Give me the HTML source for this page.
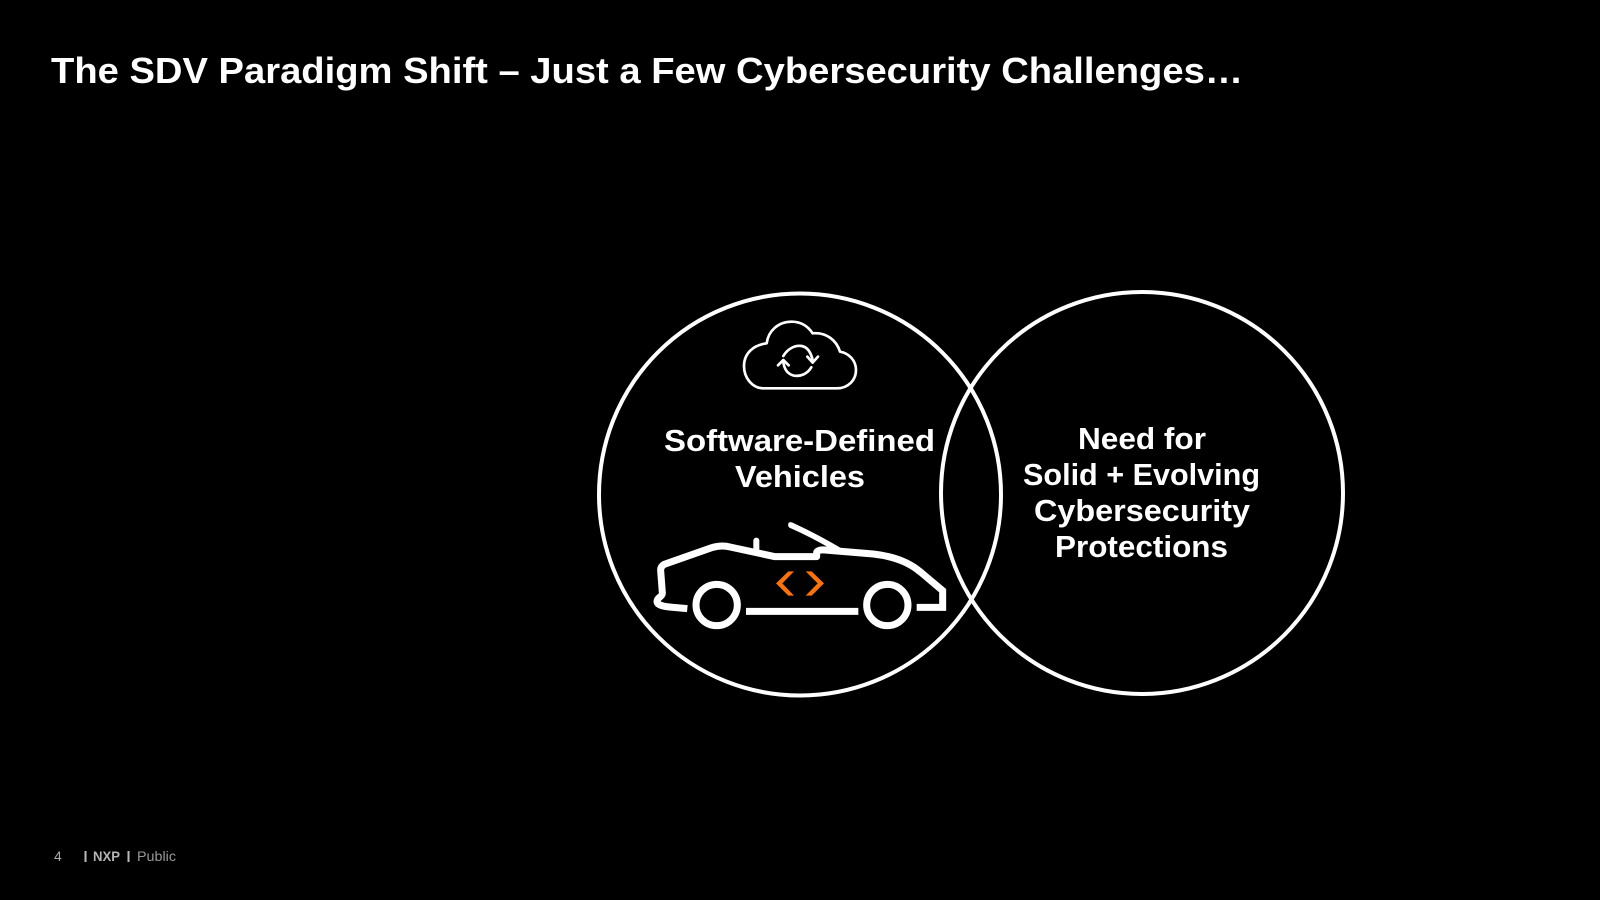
<!DOCTYPE html>
<html lang="en">
<head>
<meta charset="utf-8">
<title>The SDV Paradigm Shift</title>
<style>
html,body{margin:0;padding:0;background:#000;width:1600px;height:900px;overflow:hidden}
svg{display:block}
text{font-family:"Liberation Sans",sans-serif;fill:#fff}
</style>
</head>
<body>
<svg width="1600" height="900" viewBox="0 0 1600 900" xmlns="http://www.w3.org/2000/svg">
<rect width="1600" height="900" fill="#000"/>
<text x="51" y="83" font-size="36" font-weight="700" textLength="1192" lengthAdjust="spacingAndGlyphs">The SDV Paradigm Shift – Just a Few Cybersecurity Challenges…</text>

<circle cx="800" cy="494.5" r="201" fill="none" stroke="#fff" stroke-width="4"/>
<circle cx="1142" cy="493" r="201" fill="none" stroke="#fff" stroke-width="4"/>

<g font-size="31" font-weight="700">
<text x="664" y="451" textLength="271" lengthAdjust="spacingAndGlyphs">Software-Defined</text>
<text x="735" y="487" textLength="130" lengthAdjust="spacingAndGlyphs">Vehicles</text>
<text x="1078" y="449" textLength="128" lengthAdjust="spacingAndGlyphs">Need for</text>
<text x="1023" y="485" textLength="237" lengthAdjust="spacingAndGlyphs">Solid + Evolving</text>
<text x="1034" y="521" textLength="216" lengthAdjust="spacingAndGlyphs">Cybersecurity</text>
<text x="1055" y="557" textLength="173" lengthAdjust="spacingAndGlyphs">Protections</text>
</g>

<!-- cloud -->
<g transform="translate(720,310) scale(0.33333)" fill="none" stroke="#fff" stroke-width="8" stroke-linecap="round" stroke-linejoin="round">
<path d="M130,235 L350,235 C385,235 408,210 408,180 C408,152 388,130 360,125 C350,92 320,66 278,70 C262,46 240,35 215,35 C175,35 145,62 140,100 C100,105 72,130 72,168 C72,205 98,235 130,235 Z"/>
<path d="M190,138 C203,116 225,105 245,108 C262,111 272,125 278,150"/>
<path d="M262,140 L278,158 L294,140"/>
<path d="M274,172 C262,192 242,200 222,197 C205,193 193,180 190,156"/>
<path d="M174,166 L190,150 L206,166"/>
</g>

<!-- car -->
<g transform="translate(640,500) scale(0.33333)">
<g fill="none" stroke="#fff" stroke-width="21">
<path stroke-linejoin="round" d="M142,326 L100,322 C70,320 46,315 52,300 C56,290 68,290 67,278 L62,212 Q61,200 73,193 L215,143 Q245,134 270,141 L405,170 L530,170 L530,157 Q535,148 555,150 L700,162 Q790,172 840,215"/>
<path stroke-linejoin="miter" d="M838,213 L908,272 L908,322 L830,322"/>
<line x1="318" y1="334" x2="655" y2="334"/>
<circle cx="230" cy="315" r="62"/>
<circle cx="742" cy="315" r="62"/>
<line x1="349" y1="122" x2="349" y2="150" stroke-width="18" stroke-linecap="round"/>
</g>
<path d="M447,67 Q453,65 460,69 Q540,106 616,152 L585,154 Q515,112 448,83 Q441,75 447,67 Z" fill="#fff"/>
<polygon points="445,214 462,214 427,250 462,287 445,287 408,250" fill="#f9730a"/>
<polygon points="497,214 515,214 552,250 515,287 497,287 533,250" fill="#f9730a"/>
</g>

<!-- footer -->
<g font-size="14" fill="#aaa">
<text x="54" y="861" style="fill:#aaa">4</text>
<rect x="84.500" y="851" width="2" height="11" fill="#bbb"/>
<text x="93" y="861" font-weight="700" textLength="27" lengthAdjust="spacingAndGlyphs" style="fill:#b5b5b5">NXP</text>
<rect x="127.500" y="851" width="2" height="11" fill="#bbb"/>
<text x="137" y="861" textLength="39" lengthAdjust="spacingAndGlyphs" style="fill:#999">Public</text>
</g>
</svg>
</body>
</html>
